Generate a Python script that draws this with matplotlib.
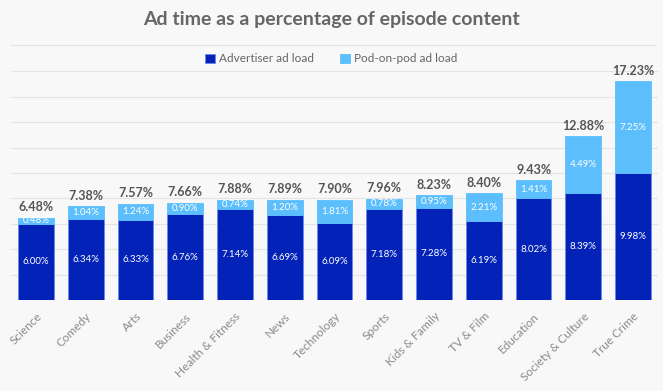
import matplotlib.pyplot as plt
import numpy as np

categories = ['Science', 'Comedy', 'Arts', 'Business', 'Health & Fitness', 'News',
              'Technology', 'Sports', 'Kids & Family', 'TV & Film', 'Education',
              'Society & Culture', 'True Crime']
advertiser = [6.00, 6.34, 6.33, 6.76, 7.14, 6.69, 6.09, 7.18, 7.28, 6.19, 8.02, 8.39, 9.98]
pod_on_pod = [0.48, 1.04, 1.24, 0.90, 0.74, 1.20, 1.81, 0.78, 0.95, 2.21, 1.41, 4.49, 7.25]
totals = [6.48, 7.38, 7.57, 7.66, 7.88, 7.89, 7.90, 7.96, 8.23, 8.40, 9.43, 12.88, 17.23]

DARK = '#0323b8'
LIGHT = '#5cbefc'
BG = '#f8f8f8'

plt.rcParams['font.family'] = ['Lato', 'DejaVu Sans']

fig = plt.figure(figsize=(6.63, 3.91), dpi=100, facecolor=BG)
ax = fig.add_axes([11 / 663, 1 - 300 / 391, 647 / 663, 228.6 / 391])
ax.set_facecolor(BG)

x = np.arange(len(categories))
ax.bar(x, advertiser, width=0.72, color=DARK, edgecolor='#6f86e8', linewidth=0.6,
       zorder=3, label='Advertiser ad load')
ax.bar(x, pod_on_pod, bottom=advertiser, width=0.72, color=LIGHT, edgecolor=LIGHT,
       linewidth=0.6, zorder=3, label='Pod-on-pod ad load')

for i in range(len(categories)):
    ax.text(x[i], advertiser[i] / 2, '{:.2f}%'.format(advertiser[i]), ha='center',
            va='center', color='white', fontsize=7, zorder=4)
    ax.text(x[i], advertiser[i] + pod_on_pod[i] / 2, '{:.2f}%'.format(pod_on_pod[i]),
            ha='center', va='center', color='white', fontsize=7, zorder=4)
    ax.text(x[i], totals[i] + 0.35, '{:.2f}%'.format(totals[i]), ha='center',
            va='bottom', color='#555555', fontsize=9, fontweight='bold', zorder=4)

ax.set_xlim(-0.5, len(categories) - 0.5)
ax.set_ylim(0, 18)
ax.set_yticks(np.arange(0, 19, 2))
ax.yaxis.grid(True, color='#e4e4e4', linewidth=0.8, zorder=0)
ax.tick_params(axis='y', left=False, labelleft=False)
ax.tick_params(axis='x', bottom=False, pad=4)
ax.set_xticks(x)
ax.set_xticklabels(categories, rotation=45, ha='right', rotation_mode='anchor',
                   color='#8a8a8a', fontsize=8.5)
for s in ax.spines.values():
    s.set_visible(False)

fig.text(0.5, 1 - 20 / 391, 'Ad time as a percentage of episode content', ha='center',
         va='center', fontsize=14, fontweight='bold', color='#666666')
fig.add_artist(plt.Line2D([11 / 663, 655 / 663], [1 - 45 / 391, 1 - 45 / 391],
                          color='#e4e4e4', linewidth=0.8))

fig.legend(loc='center', bbox_to_anchor=(0.5, 1 - 59 / 391), ncol=2, frameon=False,
           fontsize=8.5, handlelength=0.8, handleheight=0.8, handletextpad=0.4,
           columnspacing=2.2, labelcolor='#666666')

fig.savefig('out.png', dpi=100, facecolor=BG)
